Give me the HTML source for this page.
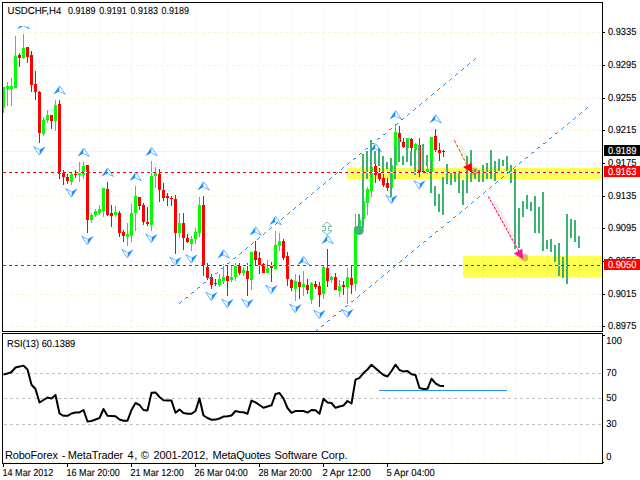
<!DOCTYPE html>
<html><head><meta charset="utf-8"><title>USDCHF H4</title>
<style>
html,body{margin:0;padding:0;background:#fff;}
body{width:640px;height:480px;overflow:hidden;}
svg{display:block;}
text{font-family:"Liberation Sans",sans-serif;}
</style></head><body>
<svg width="640" height="480" viewBox="0 0 640 480">
<defs>
<g id="fu"><path d="M0 0 L-6.1 9.1 L-0.3 5.9 Z" fill="#1e90ff"/><path d="M0.2 0.3 L5.8 8.8 L0 5.9" fill="none" stroke="#1e90ff" stroke-width="0.85" stroke-opacity="0.8"/></g>
<g id="fd"><path d="M0 0 L6.1 -9.1 L0.3 -5.9 Z" fill="#1e90ff"/><path d="M-0.2 -0.3 L-5.8 -8.8 L0 -5.9" fill="none" stroke="#1e90ff" stroke-width="0.85" stroke-opacity="0.8"/></g>
<clipPath id="cm"><rect x="3" y="3" width="599" height="328"/></clipPath>
<clipPath id="c1"><rect x="3" y="26" width="599" height="305"/></clipPath>
</defs>
<rect x="0" y="0" width="640" height="480" fill="#ffffff"/>
<g shape-rendering="crispEdges">
<line x1="35.5" y1="2" x2="35.5" y2="331" stroke="#f5f5dc" stroke-dasharray="3 3"/>
<line x1="35.5" y1="332" x2="35.5" y2="463" stroke="#f5f5dc" stroke-dasharray="3 3"/>
<line x1="67.5" y1="2" x2="67.5" y2="331" stroke="#f5f5dc" stroke-dasharray="3 3"/>
<line x1="67.5" y1="332" x2="67.5" y2="463" stroke="#f5f5dc" stroke-dasharray="3 3"/>
<line x1="99.5" y1="2" x2="99.5" y2="331" stroke="#f5f5dc" stroke-dasharray="3 3"/>
<line x1="99.5" y1="332" x2="99.5" y2="463" stroke="#f5f5dc" stroke-dasharray="3 3"/>
<line x1="131.5" y1="2" x2="131.5" y2="331" stroke="#f5f5dc" stroke-dasharray="3 3"/>
<line x1="131.5" y1="332" x2="131.5" y2="463" stroke="#f5f5dc" stroke-dasharray="3 3"/>
<line x1="163.5" y1="2" x2="163.5" y2="331" stroke="#f5f5dc" stroke-dasharray="3 3"/>
<line x1="163.5" y1="332" x2="163.5" y2="463" stroke="#f5f5dc" stroke-dasharray="3 3"/>
<line x1="195.5" y1="2" x2="195.5" y2="331" stroke="#f5f5dc" stroke-dasharray="3 3"/>
<line x1="195.5" y1="332" x2="195.5" y2="463" stroke="#f5f5dc" stroke-dasharray="3 3"/>
<line x1="227.5" y1="2" x2="227.5" y2="331" stroke="#f5f5dc" stroke-dasharray="3 3"/>
<line x1="227.5" y1="332" x2="227.5" y2="463" stroke="#f5f5dc" stroke-dasharray="3 3"/>
<line x1="259.5" y1="2" x2="259.5" y2="331" stroke="#f5f5dc" stroke-dasharray="3 3"/>
<line x1="259.5" y1="332" x2="259.5" y2="463" stroke="#f5f5dc" stroke-dasharray="3 3"/>
<line x1="291.5" y1="2" x2="291.5" y2="331" stroke="#f5f5dc" stroke-dasharray="3 3"/>
<line x1="291.5" y1="332" x2="291.5" y2="463" stroke="#f5f5dc" stroke-dasharray="3 3"/>
<line x1="323.5" y1="2" x2="323.5" y2="331" stroke="#f5f5dc" stroke-dasharray="3 3"/>
<line x1="323.5" y1="332" x2="323.5" y2="463" stroke="#f5f5dc" stroke-dasharray="3 3"/>
<line x1="355.5" y1="2" x2="355.5" y2="331" stroke="#f5f5dc" stroke-dasharray="3 3"/>
<line x1="355.5" y1="332" x2="355.5" y2="463" stroke="#f5f5dc" stroke-dasharray="3 3"/>
<line x1="387.5" y1="2" x2="387.5" y2="331" stroke="#f5f5dc" stroke-dasharray="3 3"/>
<line x1="387.5" y1="332" x2="387.5" y2="463" stroke="#f5f5dc" stroke-dasharray="3 3"/>
<line x1="419.5" y1="2" x2="419.5" y2="331" stroke="#f5f5dc" stroke-dasharray="3 3"/>
<line x1="419.5" y1="332" x2="419.5" y2="463" stroke="#f5f5dc" stroke-dasharray="3 3"/>
<line x1="451.5" y1="2" x2="451.5" y2="331" stroke="#f5f5dc" stroke-dasharray="3 3"/>
<line x1="451.5" y1="332" x2="451.5" y2="463" stroke="#f5f5dc" stroke-dasharray="3 3"/>
<line x1="483.5" y1="2" x2="483.5" y2="331" stroke="#f5f5dc" stroke-dasharray="3 3"/>
<line x1="483.5" y1="332" x2="483.5" y2="463" stroke="#f5f5dc" stroke-dasharray="3 3"/>
<line x1="515.5" y1="2" x2="515.5" y2="331" stroke="#f5f5dc" stroke-dasharray="3 3"/>
<line x1="515.5" y1="332" x2="515.5" y2="463" stroke="#f5f5dc" stroke-dasharray="3 3"/>
<line x1="547.5" y1="2" x2="547.5" y2="331" stroke="#f5f5dc" stroke-dasharray="3 3"/>
<line x1="547.5" y1="332" x2="547.5" y2="463" stroke="#f5f5dc" stroke-dasharray="3 3"/>
<line x1="579.5" y1="2" x2="579.5" y2="331" stroke="#f5f5dc" stroke-dasharray="3 3"/>
<line x1="579.5" y1="332" x2="579.5" y2="463" stroke="#f5f5dc" stroke-dasharray="3 3"/>
<rect x="347" y="168" width="255" height="11" fill="#ffff3c" fill-opacity="0.9"/>
<rect x="463" y="256" width="139" height="21" fill="#ffff3c" fill-opacity="0.9"/>
<clipPath id="cy"><rect x="347" y="168" width="255" height="11"/><rect x="463" y="256" width="139" height="21"/></clipPath>
<g clip-path="url(#cy)"><line x1="355.5" y1="2" x2="355.5" y2="331" stroke="#e9e47c" stroke-dasharray="3 3"/><line x1="387.5" y1="2" x2="387.5" y2="331" stroke="#e9e47c" stroke-dasharray="3 3"/><line x1="419.5" y1="2" x2="419.5" y2="331" stroke="#e9e47c" stroke-dasharray="3 3"/><line x1="451.5" y1="2" x2="451.5" y2="331" stroke="#e9e47c" stroke-dasharray="3 3"/><line x1="483.5" y1="2" x2="483.5" y2="331" stroke="#e9e47c" stroke-dasharray="3 3"/><line x1="515.5" y1="2" x2="515.5" y2="331" stroke="#e9e47c" stroke-dasharray="3 3"/><line x1="547.5" y1="2" x2="547.5" y2="331" stroke="#e9e47c" stroke-dasharray="3 3"/><line x1="579.5" y1="2" x2="579.5" y2="331" stroke="#e9e47c" stroke-dasharray="3 3"/></g>
<line x1="4" y1="32.5" x2="602" y2="32.5" stroke="#f5f5dc" stroke-dasharray="3 3"/>
<line x1="4" y1="65.5" x2="602" y2="65.5" stroke="#f5f5dc" stroke-dasharray="3 3"/>
<line x1="4" y1="98.5" x2="602" y2="98.5" stroke="#f5f5dc" stroke-dasharray="3 3"/>
<line x1="4" y1="130.5" x2="602" y2="130.5" stroke="#f5f5dc" stroke-dasharray="3 3"/>
<line x1="4" y1="163.5" x2="602" y2="163.5" stroke="#f5f5dc" stroke-dasharray="3 3"/>
<line x1="4" y1="196.5" x2="602" y2="196.5" stroke="#f5f5dc" stroke-dasharray="3 3"/>
<line x1="4" y1="228.5" x2="602" y2="228.5" stroke="#f5f5dc" stroke-dasharray="3 3"/>
<line x1="4" y1="261.5" x2="602" y2="261.5" stroke="#f5f5dc" stroke-dasharray="3 3"/>
<line x1="4" y1="294.5" x2="602" y2="294.5" stroke="#f5f5dc" stroke-dasharray="3 3"/>
<line x1="4" y1="326.5" x2="602" y2="326.5" stroke="#f5f5dc" stroke-dasharray="3 3"/>
<line x1="3" y1="151.5" x2="602" y2="151.5" stroke="#f5f5dc"/>
</g>
<g shape-rendering="crispEdges" clip-path="url(#cm)">
<rect x="3" y="87" width="1" height="26" fill="#00ff00"/><rect x="2" y="87" width="3" height="21" fill="#00ff00"/>
<rect x="7" y="82" width="1" height="24" fill="#00ff00"/><rect x="6" y="86" width="3" height="3" fill="#00ff00"/>
<rect x="11" y="78" width="1" height="28" fill="#00ff00"/><rect x="10" y="86" width="3" height="3" fill="#00ff00"/>
<rect x="15" y="36" width="1" height="52" fill="#00ff00"/><rect x="14" y="56" width="3" height="32" fill="#00ff00"/>
<rect x="19" y="53" width="1" height="14" fill="#ff0000"/><rect x="18" y="55" width="3" height="3" fill="#ff0000"/>
<rect x="23" y="34" width="1" height="25" fill="#00ff00"/><rect x="22" y="48" width="3" height="10" fill="#00ff00"/>
<rect x="27" y="47" width="1" height="16" fill="#ff0000"/><rect x="26" y="47" width="3" height="10" fill="#ff0000"/>
<rect x="31" y="51" width="1" height="41" fill="#ff0000"/><rect x="30" y="55" width="3" height="30" fill="#ff0000"/>
<rect x="35" y="71" width="1" height="29" fill="#ff0000"/><rect x="34" y="84" width="3" height="8" fill="#ff0000"/>
<rect x="39" y="91" width="1" height="52" fill="#ff0000"/><rect x="38" y="92" width="3" height="41" fill="#ff0000"/>
<rect x="43" y="117" width="1" height="19" fill="#00ff00"/><rect x="42" y="120" width="3" height="14" fill="#00ff00"/>
<rect x="47" y="110" width="1" height="13" fill="#00ff00"/><rect x="46" y="115" width="3" height="5" fill="#00ff00"/>
<rect x="51" y="115" width="1" height="14" fill="#ff0000"/><rect x="50" y="115" width="3" height="6" fill="#ff0000"/>
<rect x="55" y="100" width="1" height="31" fill="#00ff00"/><rect x="54" y="105" width="3" height="16" fill="#00ff00"/>
<rect x="59" y="100" width="1" height="79" fill="#ff0000"/><rect x="58" y="104" width="3" height="70" fill="#ff0000"/>
<rect x="63" y="170" width="1" height="15" fill="#ff0000"/><rect x="62" y="173" width="3" height="4" fill="#ff0000"/>
<rect x="67" y="174" width="1" height="10" fill="#ff0000"/><rect x="66" y="177" width="3" height="4" fill="#ff0000"/>
<rect x="71" y="173" width="1" height="12" fill="#00ff00"/><rect x="70" y="174" width="3" height="8" fill="#00ff00"/>
<rect x="75" y="170" width="1" height="8" fill="#ff0000"/><rect x="74" y="174" width="3" height="1" fill="#ff0000"/>
<rect x="79" y="162" width="1" height="20" fill="#00ff00"/><rect x="78" y="173" width="3" height="2" fill="#00ff00"/>
<rect x="83" y="162" width="1" height="17" fill="#00ff00"/><rect x="82" y="166" width="3" height="9" fill="#00ff00"/>
<rect x="87" y="165" width="1" height="68" fill="#ff0000"/><rect x="86" y="165" width="3" height="55" fill="#ff0000"/>
<rect x="91" y="213" width="1" height="10" fill="#00ff00"/><rect x="90" y="215" width="3" height="5" fill="#00ff00"/>
<rect x="95" y="209" width="1" height="8" fill="#00ff00"/><rect x="94" y="211" width="3" height="4" fill="#00ff00"/>
<rect x="99" y="205" width="1" height="10" fill="#00ff00"/><rect x="98" y="209" width="3" height="4" fill="#00ff00"/>
<rect x="103" y="188" width="1" height="29" fill="#00ff00"/><rect x="102" y="188" width="3" height="23" fill="#00ff00"/>
<rect x="107" y="182" width="1" height="34" fill="#ff0000"/><rect x="106" y="189" width="3" height="26" fill="#ff0000"/>
<rect x="111" y="205" width="1" height="22" fill="#ff0000"/><rect x="110" y="213" width="3" height="3" fill="#ff0000"/>
<rect x="115" y="206" width="1" height="11" fill="#00ff00"/><rect x="114" y="212" width="3" height="3" fill="#00ff00"/>
<rect x="119" y="211" width="1" height="26" fill="#ff0000"/><rect x="118" y="213" width="3" height="20" fill="#ff0000"/>
<rect x="123" y="230" width="1" height="12" fill="#ff0000"/><rect x="122" y="232" width="3" height="4" fill="#ff0000"/>
<rect x="127" y="223" width="1" height="23" fill="#00ff00"/><rect x="126" y="234" width="3" height="3" fill="#00ff00"/>
<rect x="131" y="204" width="1" height="38" fill="#00ff00"/><rect x="130" y="213" width="3" height="23" fill="#00ff00"/>
<rect x="135" y="186" width="1" height="45" fill="#00ff00"/><rect x="134" y="196" width="3" height="17" fill="#00ff00"/>
<rect x="139" y="197" width="1" height="13" fill="#ff0000"/><rect x="138" y="197" width="3" height="9" fill="#ff0000"/>
<rect x="143" y="203" width="1" height="22" fill="#ff0000"/><rect x="142" y="205" width="3" height="17" fill="#ff0000"/>
<rect x="147" y="207" width="1" height="19" fill="#ff0000"/><rect x="146" y="222" width="3" height="2" fill="#ff0000"/>
<rect x="151" y="161" width="1" height="70" fill="#00ff00"/><rect x="150" y="176" width="3" height="49" fill="#00ff00"/>
<rect x="155" y="167" width="1" height="21" fill="#00ff00"/><rect x="154" y="173" width="3" height="3" fill="#00ff00"/>
<rect x="159" y="169" width="1" height="33" fill="#ff0000"/><rect x="158" y="174" width="3" height="16" fill="#ff0000"/>
<rect x="163" y="183" width="1" height="18" fill="#ff0000"/><rect x="162" y="190" width="3" height="8" fill="#ff0000"/>
<rect x="167" y="193" width="1" height="13" fill="#ff0000"/><rect x="166" y="196" width="3" height="2" fill="#ff0000"/>
<rect x="171" y="196" width="1" height="10" fill="#ff0000"/><rect x="170" y="198" width="3" height="1" fill="#ff0000"/>
<rect x="175" y="195" width="1" height="59" fill="#ff0000"/><rect x="174" y="199" width="3" height="34" fill="#ff0000"/>
<rect x="179" y="213" width="1" height="25" fill="#00ff00"/><rect x="178" y="223" width="3" height="10" fill="#00ff00"/>
<rect x="183" y="213" width="1" height="37" fill="#ff0000"/><rect x="182" y="223" width="3" height="15" fill="#ff0000"/>
<rect x="187" y="234" width="1" height="9" fill="#ff0000"/><rect x="186" y="238" width="3" height="4" fill="#ff0000"/>
<rect x="191" y="236" width="1" height="15" fill="#00ff00"/><rect x="190" y="239" width="3" height="5" fill="#00ff00"/>
<rect x="195" y="228" width="1" height="16" fill="#00ff00"/><rect x="194" y="232" width="3" height="7" fill="#00ff00"/>
<rect x="199" y="197" width="1" height="40" fill="#00ff00"/><rect x="198" y="205" width="3" height="28" fill="#00ff00"/>
<rect x="203" y="196" width="1" height="80" fill="#ff0000"/><rect x="202" y="205" width="3" height="61" fill="#ff0000"/>
<rect x="207" y="263" width="1" height="17" fill="#ff0000"/><rect x="206" y="267" width="3" height="11" fill="#ff0000"/>
<rect x="211" y="274" width="1" height="15" fill="#ff0000"/><rect x="210" y="277" width="3" height="8" fill="#ff0000"/>
<rect x="215" y="279" width="1" height="7" fill="#ff0000"/><rect x="214" y="283" width="3" height="1" fill="#ff0000"/>
<rect x="219" y="274" width="1" height="13" fill="#00ff00"/><rect x="218" y="279" width="3" height="6" fill="#00ff00"/>
<rect x="223" y="264" width="1" height="20" fill="#00ff00"/><rect x="222" y="277" width="3" height="4" fill="#00ff00"/>
<rect x="227" y="266" width="1" height="30" fill="#ff0000"/><rect x="226" y="276" width="3" height="5" fill="#ff0000"/>
<rect x="231" y="266" width="1" height="16" fill="#00ff00"/><rect x="230" y="277" width="3" height="3" fill="#00ff00"/>
<rect x="235" y="263" width="1" height="18" fill="#00ff00"/><rect x="234" y="266" width="3" height="11" fill="#00ff00"/>
<rect x="239" y="263" width="1" height="12" fill="#ff0000"/><rect x="238" y="266" width="3" height="7" fill="#ff0000"/>
<rect x="243" y="267" width="1" height="9" fill="#00ff00"/><rect x="242" y="270" width="3" height="3" fill="#00ff00"/>
<rect x="247" y="263" width="1" height="33" fill="#ff0000"/><rect x="246" y="271" width="3" height="8" fill="#ff0000"/>
<rect x="251" y="252" width="1" height="38" fill="#00ff00"/><rect x="250" y="252" width="3" height="28" fill="#00ff00"/>
<rect x="255" y="241" width="1" height="24" fill="#ff0000"/><rect x="254" y="251" width="3" height="9" fill="#ff0000"/>
<rect x="259" y="252" width="1" height="22" fill="#ff0000"/><rect x="258" y="258" width="3" height="7" fill="#ff0000"/>
<rect x="263" y="263" width="1" height="10" fill="#ff0000"/><rect x="262" y="264" width="3" height="9" fill="#ff0000"/>
<rect x="267" y="260" width="1" height="13" fill="#00ff00"/><rect x="266" y="268" width="3" height="5" fill="#00ff00"/>
<rect x="271" y="262" width="1" height="20" fill="#ff0000"/><rect x="270" y="266" width="3" height="2" fill="#ff0000"/>
<rect x="275" y="231" width="1" height="38" fill="#00ff00"/><rect x="274" y="245" width="3" height="24" fill="#00ff00"/>
<rect x="279" y="233" width="1" height="18" fill="#00ff00"/><rect x="278" y="241" width="3" height="5" fill="#00ff00"/>
<rect x="283" y="239" width="1" height="21" fill="#ff0000"/><rect x="282" y="241" width="3" height="17" fill="#ff0000"/>
<rect x="287" y="252" width="1" height="34" fill="#ff0000"/><rect x="286" y="256" width="3" height="23" fill="#ff0000"/>
<rect x="291" y="279" width="1" height="12" fill="#ff0000"/><rect x="290" y="280" width="3" height="8" fill="#ff0000"/>
<rect x="295" y="274" width="1" height="27" fill="#00ff00"/><rect x="294" y="281" width="3" height="8" fill="#00ff00"/>
<rect x="299" y="275" width="1" height="24" fill="#ff0000"/><rect x="298" y="282" width="3" height="5" fill="#ff0000"/>
<rect x="303" y="271" width="1" height="25" fill="#00ff00"/><rect x="302" y="284" width="3" height="3" fill="#00ff00"/>
<rect x="307" y="279" width="1" height="15" fill="#ff0000"/><rect x="306" y="285" width="3" height="5" fill="#ff0000"/>
<rect x="311" y="282" width="1" height="22" fill="#00ff00"/><rect x="310" y="283" width="3" height="17" fill="#00ff00"/>
<rect x="315" y="281" width="1" height="8" fill="#ff0000"/><rect x="314" y="284" width="3" height="3" fill="#ff0000"/>
<rect x="319" y="282" width="1" height="25" fill="#ff0000"/><rect x="318" y="286" width="3" height="9" fill="#ff0000"/>
<rect x="323" y="266" width="1" height="33" fill="#00ff00"/><rect x="322" y="267" width="3" height="27" fill="#00ff00"/>
<rect x="327" y="249" width="1" height="38" fill="#ff0000"/><rect x="326" y="268" width="3" height="13" fill="#ff0000"/>
<rect x="331" y="276" width="1" height="7" fill="#00ff00"/><rect x="330" y="277" width="3" height="3" fill="#00ff00"/>
<rect x="335" y="273" width="1" height="17" fill="#ff0000"/><rect x="334" y="277" width="3" height="13" fill="#ff0000"/>
<rect x="339" y="280" width="1" height="17" fill="#00ff00"/><rect x="338" y="286" width="3" height="5" fill="#00ff00"/>
<rect x="343" y="281" width="1" height="14" fill="#ff0000"/><rect x="342" y="285" width="3" height="2" fill="#ff0000"/>
<rect x="347" y="268" width="1" height="36" fill="#00ff00"/><rect x="346" y="277" width="3" height="10" fill="#00ff00"/>
<rect x="351" y="266" width="1" height="28" fill="#ff0000"/><rect x="350" y="278" width="3" height="7" fill="#ff0000"/>
<rect x="355" y="214" width="1" height="77" fill="#00ff00"/><rect x="354" y="227" width="3" height="57" fill="#00ff00"/>
<rect x="359" y="220" width="1" height="9" fill="#00ff00"/><rect x="358" y="220" width="3" height="9" fill="#00ff00"/>
<rect x="363" y="201" width="1" height="18" fill="#00ff00"/><rect x="362" y="201" width="3" height="18" fill="#00ff00"/>
<rect x="367" y="187" width="1" height="28" fill="#00ff00"/><rect x="366" y="189" width="3" height="14" fill="#00ff00"/>
<rect x="371" y="167" width="1" height="30" fill="#00ff00"/><rect x="370" y="167" width="3" height="24" fill="#00ff00"/>
<rect x="375" y="164" width="1" height="19" fill="#ff0000"/><rect x="374" y="166" width="3" height="9" fill="#ff0000"/>
<rect x="379" y="168" width="1" height="13" fill="#ff0000"/><rect x="378" y="173" width="3" height="6" fill="#ff0000"/>
<rect x="383" y="174" width="1" height="13" fill="#ff0000"/><rect x="382" y="178" width="3" height="7" fill="#ff0000"/>
<rect x="387" y="178" width="1" height="13" fill="#ff0000"/><rect x="386" y="183" width="3" height="5" fill="#ff0000"/>
<rect x="391" y="165" width="1" height="23" fill="#00ff00"/><rect x="390" y="165" width="3" height="23" fill="#00ff00"/>
<rect x="395" y="125" width="1" height="40" fill="#00ff00"/><rect x="394" y="132" width="3" height="33" fill="#00ff00"/>
<rect x="399" y="126" width="1" height="17" fill="#ff0000"/><rect x="398" y="133" width="3" height="9" fill="#ff0000"/>
<rect x="403" y="138" width="1" height="10" fill="#ff0000"/><rect x="402" y="142" width="3" height="5" fill="#ff0000"/>
<rect x="407" y="138" width="1" height="10" fill="#00ff00"/><rect x="406" y="138" width="3" height="10" fill="#00ff00"/>
<rect x="411" y="138" width="1" height="13" fill="#ff0000"/><rect x="410" y="139" width="3" height="9" fill="#ff0000"/>
<rect x="415" y="143" width="1" height="7" fill="#00ff00"/><rect x="414" y="144" width="3" height="6" fill="#00ff00"/>
<rect x="419" y="138" width="1" height="39" fill="#ff0000"/><rect x="418" y="145" width="3" height="27" fill="#ff0000"/>
<rect x="423" y="171" width="1" height="2" fill="#ff0000"/><rect x="422" y="171" width="3" height="2" fill="#ff0000"/>
<rect x="427" y="166" width="1" height="8" fill="#00ff00"/><rect x="426" y="169" width="3" height="3" fill="#00ff00"/>
<rect x="431" y="137" width="1" height="35" fill="#00ff00"/><rect x="430" y="137" width="3" height="35" fill="#00ff00"/>
<rect x="435" y="129" width="1" height="23" fill="#ff0000"/><rect x="434" y="136" width="3" height="14" fill="#ff0000"/>
<rect x="439" y="143" width="1" height="18" fill="#ff0000"/><rect x="438" y="150" width="3" height="3" fill="#ff0000"/>
<rect x="443" y="150" width="1" height="7" fill="#ff0000"/><rect x="442" y="151" width="3" height="1" fill="#ff0000"/>
</g>
<g stroke="#f0efe2" fill="none" stroke-linecap="round">
<line x1="460.5" y1="146" x2="470" y2="164" stroke-width="3"/>
<line x1="494.5" y1="202.5" x2="515" y2="240" stroke-width="3.2"/>
</g>
<g shape-rendering="crispEdges" fill="#3cb371">
<rect x="358" y="214" width="2" height="16"/><rect x="362" y="154" width="2" height="74"/><rect x="366" y="151" width="2" height="28"/><rect x="370" y="140" width="2" height="37"/><rect x="374" y="151" width="2" height="13"/><rect x="378" y="148" width="2" height="18"/><rect x="382" y="156" width="2" height="16"/><rect x="386" y="162" width="2" height="7"/><rect x="390" y="158" width="2" height="39"/><rect x="394" y="147" width="2" height="32"/><rect x="398" y="138" width="2" height="24"/><rect x="402" y="156" width="2" height="9"/><rect x="406" y="140" width="2" height="22"/><rect x="410" y="151" width="2" height="15"/><rect x="414" y="150" width="2" height="25"/><rect x="418" y="145" width="2" height="25"/><rect x="422" y="144" width="2" height="27"/><rect x="426" y="155" width="2" height="11"/><rect x="430" y="159" width="2" height="34"/><rect x="434" y="186" width="2" height="20"/><rect x="438" y="194" width="2" height="18"/><rect x="442" y="177" width="2" height="38"/><rect x="446" y="164" width="2" height="20"/><rect x="450" y="173" width="2" height="12"/><rect x="454" y="173" width="2" height="9"/><rect x="458" y="171" width="2" height="22"/><rect x="462" y="180" width="2" height="25"/><rect x="466" y="156" width="2" height="37"/><rect x="470" y="150" width="2" height="32"/><rect x="474" y="169" width="2" height="10"/><rect x="478" y="170" width="2" height="12"/><rect x="482" y="165" width="2" height="17"/><rect x="486" y="163" width="2" height="16"/><rect x="490" y="150" width="2" height="29"/><rect x="494" y="161" width="2" height="20"/><rect x="498" y="159" width="2" height="12"/><rect x="502" y="160" width="2" height="6"/><rect x="506" y="156" width="2" height="15"/><rect x="510" y="165" width="2" height="18"/><rect x="514" y="169" width="2" height="80"/><rect x="518" y="208" width="2" height="40"/><rect x="522" y="201" width="2" height="16"/><rect x="526" y="195" width="2" height="14"/><rect x="530" y="202" width="2" height="9"/><rect x="534" y="196" width="2" height="37"/><rect x="538" y="207" width="2" height="26"/><rect x="542" y="192" width="2" height="59"/><rect x="546" y="240" width="2" height="9"/><rect x="550" y="239" width="2" height="13"/><rect x="554" y="245" width="2" height="17"/><rect x="558" y="243" width="2" height="33"/><rect x="562" y="257" width="2" height="21"/><rect x="566" y="214" width="2" height="70"/><rect x="570" y="219" width="2" height="19"/><rect x="574" y="220" width="2" height="22"/><rect x="578" y="236" width="2" height="12"/>
</g>
<circle cx="359" cy="230.3" r="4.8" fill="#3cb371"/>
<g shape-rendering="crispEdges">
<rect x="3" y="172" width="599" height="1" fill="#fff"/><line x1="3" y1="172.5" x2="602" y2="172.5" stroke="#ff0000" stroke-dasharray="3 3"/>
<rect x="3" y="265" width="599" height="1" fill="#fff"/><line x1="3" y1="265.5" x2="602" y2="265.5" stroke="#ff0000" stroke-dasharray="3 3"/>
</g>
<path shape-rendering="crispEdges" fill="#1e90ff" d="M179 303h1v1h-1zM180 302h1v1h-1zM181 301h1v1h-1zM185 298h1v1h-1zM186 297h1v1h-1zM187 297h1v1h-1zM191 293h1v1h-1zM192 292h1v1h-1zM193 292h1v1h-1zM197 288h1v1h-1zM198 287h1v1h-1zM199 287h1v1h-1zM203 283h1v1h-1zM204 282h1v1h-1zM205 282h1v1h-1zM209 278h1v1h-1zM210 278h1v1h-1zM211 277h1v1h-1zM215 273h1v1h-1zM216 273h1v1h-1zM217 272h1v1h-1zM221 268h1v1h-1zM222 268h1v1h-1zM223 267h1v1h-1zM227 263h1v1h-1zM228 263h1v1h-1zM229 262h1v1h-1zM233 258h1v1h-1zM234 258h1v1h-1zM235 257h1v1h-1zM239 254h1v1h-1zM240 253h1v1h-1zM241 252h1v1h-1zM245 249h1v1h-1zM246 248h1v1h-1zM247 247h1v1h-1zM251 244h1v1h-1zM252 243h1v1h-1zM253 242h1v1h-1zM257 239h1v1h-1zM258 238h1v1h-1zM259 237h1v1h-1zM263 234h1v1h-1zM264 233h1v1h-1zM265 232h1v1h-1zM269 229h1v1h-1zM270 228h1v1h-1zM271 227h1v1h-1zM275 224h1v1h-1zM276 223h1v1h-1zM277 222h1v1h-1zM281 219h1v1h-1zM282 218h1v1h-1zM283 217h1v1h-1zM287 214h1v1h-1zM288 213h1v1h-1zM289 212h1v1h-1zM293 209h1v1h-1zM294 208h1v1h-1zM295 207h1v1h-1zM299 204h1v1h-1zM300 203h1v1h-1zM301 202h1v1h-1zM305 199h1v1h-1zM306 198h1v1h-1zM307 197h1v1h-1zM311 194h1v1h-1zM312 193h1v1h-1zM313 192h1v1h-1zM317 189h1v1h-1zM318 188h1v1h-1zM319 187h1v1h-1zM323 184h1v1h-1zM324 183h1v1h-1zM325 182h1v1h-1zM329 179h1v1h-1zM330 178h1v1h-1zM331 177h1v1h-1zM335 174h1v1h-1zM336 173h1v1h-1zM337 172h1v1h-1zM341 169h1v1h-1zM342 168h1v1h-1zM343 167h1v1h-1zM347 164h1v1h-1zM348 163h1v1h-1zM349 162h1v1h-1zM353 159h1v1h-1zM354 158h1v1h-1zM355 158h1v1h-1zM359 154h1v1h-1zM360 153h1v1h-1zM361 153h1v1h-1zM365 149h1v1h-1zM366 148h1v1h-1zM367 148h1v1h-1zM371 144h1v1h-1zM372 143h1v1h-1zM373 143h1v1h-1zM377 139h1v1h-1zM378 138h1v1h-1zM379 138h1v1h-1zM383 134h1v1h-1zM384 134h1v1h-1zM385 133h1v1h-1zM389 129h1v1h-1zM390 129h1v1h-1zM391 128h1v1h-1zM395 124h1v1h-1zM396 124h1v1h-1zM397 123h1v1h-1zM401 119h1v1h-1zM402 119h1v1h-1zM403 118h1v1h-1zM407 115h1v1h-1zM408 114h1v1h-1zM409 113h1v1h-1zM413 110h1v1h-1zM414 109h1v1h-1zM415 108h1v1h-1zM419 105h1v1h-1zM420 104h1v1h-1zM421 103h1v1h-1zM425 100h1v1h-1zM426 99h1v1h-1zM427 98h1v1h-1zM431 95h1v1h-1zM432 94h1v1h-1zM433 93h1v1h-1zM437 90h1v1h-1zM438 89h1v1h-1zM439 88h1v1h-1zM443 85h1v1h-1zM444 84h1v1h-1zM445 83h1v1h-1zM449 80h1v1h-1zM450 79h1v1h-1zM451 78h1v1h-1zM455 75h1v1h-1zM456 74h1v1h-1zM457 73h1v1h-1zM461 70h1v1h-1zM462 69h1v1h-1zM463 68h1v1h-1zM467 65h1v1h-1zM468 64h1v1h-1zM469 63h1v1h-1zM473 60h1v1h-1zM474 59h1v1h-1zM475 58h1v1h-1z"/>
<path shape-rendering="crispEdges" fill="#1e90ff" d="M316 330h1v1h-1zM317 329h1v1h-1zM321 326h1v1h-1zM322 325h1v1h-1zM323 325h1v1h-1zM327 321h1v1h-1zM328 320h1v1h-1zM329 320h1v1h-1zM333 316h1v1h-1zM334 315h1v1h-1zM335 315h1v1h-1zM339 311h1v1h-1zM340 311h1v1h-1zM341 310h1v1h-1zM345 306h1v1h-1zM346 306h1v1h-1zM347 305h1v1h-1zM351 301h1v1h-1zM352 301h1v1h-1zM353 300h1v1h-1zM357 297h1v1h-1zM358 296h1v1h-1zM359 295h1v1h-1zM363 292h1v1h-1zM364 291h1v1h-1zM365 290h1v1h-1zM369 287h1v1h-1zM370 286h1v1h-1zM371 285h1v1h-1zM375 282h1v1h-1zM376 281h1v1h-1zM377 280h1v1h-1zM381 277h1v1h-1zM382 276h1v1h-1zM383 275h1v1h-1zM387 272h1v1h-1zM388 271h1v1h-1zM389 270h1v1h-1zM393 267h1v1h-1zM394 266h1v1h-1zM395 265h1v1h-1zM399 262h1v1h-1zM400 261h1v1h-1zM401 260h1v1h-1zM405 257h1v1h-1zM406 256h1v1h-1zM407 255h1v1h-1zM411 252h1v1h-1zM412 251h1v1h-1zM413 250h1v1h-1zM417 247h1v1h-1zM418 246h1v1h-1zM419 245h1v1h-1zM423 242h1v1h-1zM424 241h1v1h-1zM425 241h1v1h-1zM429 237h1v1h-1zM430 236h1v1h-1zM431 236h1v1h-1zM435 232h1v1h-1zM436 231h1v1h-1zM437 231h1v1h-1zM441 227h1v1h-1zM442 227h1v1h-1zM443 226h1v1h-1zM447 222h1v1h-1zM448 222h1v1h-1zM449 221h1v1h-1zM453 217h1v1h-1zM454 217h1v1h-1zM455 216h1v1h-1zM459 213h1v1h-1zM460 212h1v1h-1zM461 211h1v1h-1zM465 208h1v1h-1zM466 207h1v1h-1zM467 206h1v1h-1zM471 203h1v1h-1zM472 202h1v1h-1zM473 201h1v1h-1zM477 198h1v1h-1zM478 197h1v1h-1zM479 196h1v1h-1zM483 193h1v1h-1zM484 192h1v1h-1zM485 191h1v1h-1zM489 188h1v1h-1zM490 187h1v1h-1zM491 186h1v1h-1zM495 183h1v1h-1zM496 182h1v1h-1zM497 181h1v1h-1zM501 178h1v1h-1zM502 177h1v1h-1zM503 176h1v1h-1zM507 173h1v1h-1zM508 172h1v1h-1zM509 171h1v1h-1zM513 168h1v1h-1zM514 167h1v1h-1zM515 166h1v1h-1zM519 163h1v1h-1zM520 162h1v1h-1zM521 161h1v1h-1zM525 158h1v1h-1zM526 157h1v1h-1zM527 157h1v1h-1zM531 153h1v1h-1zM532 152h1v1h-1zM533 152h1v1h-1zM537 148h1v1h-1zM538 147h1v1h-1zM539 147h1v1h-1zM543 143h1v1h-1zM544 143h1v1h-1zM545 142h1v1h-1zM549 138h1v1h-1zM550 138h1v1h-1zM551 137h1v1h-1zM555 133h1v1h-1zM556 133h1v1h-1zM557 132h1v1h-1zM561 129h1v1h-1zM562 128h1v1h-1zM563 127h1v1h-1zM567 124h1v1h-1zM568 123h1v1h-1zM569 122h1v1h-1zM573 119h1v1h-1zM574 118h1v1h-1zM575 117h1v1h-1zM579 114h1v1h-1zM580 113h1v1h-1zM581 112h1v1h-1zM585 109h1v1h-1zM586 108h1v1h-1zM587 107h1v1h-1z"/>
<g clip-path="url(#c1)">
<use href="#fu" x="23.5" y="20.1"/><use href="#fu" x="59.5" y="85.5"/><use href="#fu" x="83.5" y="147.7"/><use href="#fu" x="107.5" y="167.6"/><use href="#fu" x="135.5" y="172"/><use href="#fu" x="151.5" y="147"/><use href="#fu" x="203.5" y="181.3"/><use href="#fu" x="223.5" y="249.3"/><use href="#fu" x="255.5" y="226.5"/><use href="#fu" x="275.5" y="216"/><use href="#fu" x="303.5" y="256"/><use href="#fu" x="327.5" y="235"/><use href="#fu" x="375.5" y="143"/><use href="#fu" x="395.5" y="110.3"/><use href="#fu" x="435.5" y="114.2"/><use href="#fd" x="39.5" y="155.5"/><use href="#fd" x="71.5" y="197.5"/><use href="#fd" x="87.5" y="245"/><use href="#fd" x="127.5" y="258.3"/><use href="#fd" x="151.5" y="243"/><use href="#fd" x="175.5" y="266"/><use href="#fd" x="191.5" y="263.5"/><use href="#fd" x="211.5" y="301"/><use href="#fd" x="227.5" y="308"/><use href="#fd" x="247.5" y="308"/><use href="#fd" x="271.5" y="294"/><use href="#fd" x="295.5" y="313"/><use href="#fd" x="319.5" y="319"/><use href="#fd" x="347.5" y="318"/><use href="#fd" x="391.5" y="204"/><use href="#fd" x="419.5" y="189.4"/>
</g>
<path d="M327 222 L332 226.5 L328.6 226.5 L328.6 230.7 L332 230.7 L327 235 L322 230.7 L325.4 230.7 L325.4 226.5 L322 226.5 Z" fill="#fff" stroke="#44a98c" stroke-width="0.75"/>
<g fill="#a87830" opacity="0.45">
<ellipse cx="474.5" cy="171.5" rx="3.2" ry="4.2"/>
<ellipse cx="525" cy="257.5" rx="3.2" ry="4"/>
</g>
<line x1="454.4" y1="140.4" x2="467" y2="165" stroke="#ffc890" stroke-width="1"/>
<line x1="454.4" y1="140.4" x2="467" y2="165" stroke="#ff2020" stroke-width="1" stroke-dasharray="2.5 2.5"/>
<path d="M462.9 167 L471.6 163.1 L472.3 172.7 Z" fill="#ff0000"/>
<line x1="488.4" y1="196.6" x2="519" y2="251.5" stroke="#ffb0d4" stroke-width="1"/>
<line x1="488.4" y1="196.6" x2="519" y2="251.5" stroke="#ff1493" stroke-width="1.15" stroke-dasharray="2.2 1.8"/>
<path d="M513.9 253.6 L522.3 248.7 L523.2 259.6 Z" fill="#ff1493"/>
<g shape-rendering="crispEdges">
<line x1="4" y1="373.5" x2="602" y2="373.5" stroke="#c0c0c0" stroke-dasharray="3 3"/>
<line x1="4" y1="398.5" x2="602" y2="398.5" stroke="#c0c0c0" stroke-dasharray="3 3"/>
<line x1="4" y1="424.5" x2="602" y2="424.5" stroke="#c0c0c0" stroke-dasharray="3 3"/>
<line x1="4" y1="462.5" x2="602" y2="462.5" stroke="#f5f5dc" stroke-dasharray="3 3"/>
<line x1="379" y1="390.5" x2="507" y2="390.5" stroke="#1e90ff"/>
</g>
<polyline points="3.5,374.4 7.5,373.6 11.5,372 15.5,367.5 19.5,366.6 23.5,365.6 27.5,369.5 31.5,384.7 35.5,389 39.5,402.5 43.5,400 47.5,397.6 51.5,398.4 55.5,395 59.5,413.5 63.5,415.8 67.5,415.8 71.5,413.5 75.5,412.6 79.5,412.4 83.5,410 87.5,421.5 91.5,421 95.5,419.5 99.5,418 103.5,409 107.5,415.8 111.5,416 115.5,416.2 119.5,419.5 123.5,420.7 127.5,420.7 131.5,410 135.5,403 139.5,405 143.5,410 147.5,410.4 151.5,392.75 155.5,392.4 159.5,397 163.5,400.25 167.5,400.4 171.5,400.6 175.5,412.8 179.5,409.6 183.5,413 187.5,413.75 191.5,413.75 195.5,411 199.5,398.4 203.5,415.5 207.5,418 211.5,419.75 215.5,419.6 219.5,418.5 223.5,416.6 227.5,416.2 231.5,415.5 235.5,411 239.5,411.9 243.5,412.2 247.5,413.75 251.5,400.6 255.5,402.3 259.5,405 263.5,407.75 267.5,406.5 271.5,405.3 275.5,394 279.5,393 283.5,398.6 287.5,408 291.5,412.8 295.5,411 299.5,411 303.5,411 307.5,412.6 311.5,410 315.5,410.2 319.5,413.75 323.5,398.75 327.5,402.5 331.5,403 335.5,407.8 339.5,406.5 343.5,405.5 347.5,401 351.5,403.5 355.5,379.7 359.5,377.8 363.5,373 367.5,369.5 371.5,364.7 375.5,368.2 379.5,371.7 383.5,375 387.5,376.5 391.5,371 395.5,364.7 399.5,370 403.5,371.6 407.5,370.9 411.5,374.2 415.5,375 419.5,388 423.5,389 427.5,388.8 431.5,378.75 435.5,383.4 439.5,385.7 443.5,386 444,386" fill="none" stroke="#000" stroke-width="2" stroke-linejoin="round"/>
<g shape-rendering="crispEdges" fill="#000">
<rect x="2" y="2" width="601" height="1"/><rect x="2" y="2" width="1" height="462"/><rect x="602" y="2" width="1" height="462"/><rect x="2" y="331" width="601" height="1"/><rect x="2" y="332" width="601" height="1" fill="#fff"/><rect x="2" y="333" width="601" height="1"/><rect x="2" y="463" width="601" height="1"/><rect x="603" y="32" width="2" height="1"/><rect x="603" y="65" width="2" height="1"/><rect x="603" y="98" width="2" height="1"/><rect x="603" y="130" width="2" height="1"/><rect x="603" y="163" width="2" height="1"/><rect x="603" y="196" width="2" height="1"/><rect x="603" y="228" width="2" height="1"/><rect x="603" y="261" width="2" height="1"/><rect x="603" y="294" width="2" height="1"/><rect x="603" y="326" width="2" height="1"/><rect x="603" y="335" width="2" height="1"/><rect x="603" y="462" width="1" height="1"/><rect x="3" y="464" width="1" height="3"/><rect x="67" y="464" width="1" height="3"/><rect x="131" y="464" width="1" height="3"/><rect x="195" y="464" width="1" height="3"/><rect x="259" y="464" width="1" height="3"/><rect x="323" y="464" width="1" height="3"/><rect x="387" y="464" width="1" height="3"/>
</g>
<g font-size="10.2px" fill="#000" stroke="#000" stroke-width="0.1">
<text transform="translate(607.9,35.1) rotate(0.03)" textLength="28.4" lengthAdjust="spacingAndGlyphs">0.9335</text><text transform="translate(607.9,68.1) rotate(0.03)" textLength="28.4" lengthAdjust="spacingAndGlyphs">0.9295</text><text transform="translate(607.9,101.1) rotate(0.03)" textLength="28.4" lengthAdjust="spacingAndGlyphs">0.9255</text><text transform="translate(607.9,133.1) rotate(0.03)" textLength="28.4" lengthAdjust="spacingAndGlyphs">0.9215</text><text transform="translate(607.9,166.1) rotate(0.03)" textLength="28.4" lengthAdjust="spacingAndGlyphs">0.9175</text><text transform="translate(607.9,199.1) rotate(0.03)" textLength="28.4" lengthAdjust="spacingAndGlyphs">0.9135</text><text transform="translate(607.9,231.1) rotate(0.03)" textLength="28.4" lengthAdjust="spacingAndGlyphs">0.9095</text><text transform="translate(607.9,264.1) rotate(0.03)" textLength="28.4" lengthAdjust="spacingAndGlyphs">0.9055</text><text transform="translate(607.9,297.1) rotate(0.03)" textLength="28.4" lengthAdjust="spacingAndGlyphs">0.9015</text><text transform="translate(607.9,329.1) rotate(0.03)" textLength="28.4" lengthAdjust="spacingAndGlyphs">0.8975</text><text transform="translate(606.3,344.1) rotate(0.03)" textLength="15.5" lengthAdjust="spacingAndGlyphs">100</text><text transform="translate(606.3,376.1) rotate(0.03)" textLength="10.3" lengthAdjust="spacingAndGlyphs">70</text><text transform="translate(606.3,401.1) rotate(0.03)" textLength="10.3" lengthAdjust="spacingAndGlyphs">50</text><text transform="translate(606.3,427.1) rotate(0.03)" textLength="10.3" lengthAdjust="spacingAndGlyphs">30</text><text transform="translate(606.3,460.1) rotate(0.03)" textLength="5.2" lengthAdjust="spacingAndGlyphs">0</text><text transform="translate(2.5,476.1) rotate(0.03)" textLength="50.9" lengthAdjust="spacingAndGlyphs">14 Mar 2012</text><text transform="translate(66.5,476.1) rotate(0.03)" textLength="53.4" lengthAdjust="spacingAndGlyphs">16 Mar 20:00</text><text transform="translate(130.5,476.1) rotate(0.03)" textLength="53.4" lengthAdjust="spacingAndGlyphs">21 Mar 12:00</text><text transform="translate(194.5,476.1) rotate(0.03)" textLength="53.4" lengthAdjust="spacingAndGlyphs">26 Mar 04:00</text><text transform="translate(258.5,476.1) rotate(0.03)" textLength="53.4" lengthAdjust="spacingAndGlyphs">28 Mar 20:00</text><text transform="translate(322.5,476.1) rotate(0.03)" textLength="48.3" lengthAdjust="spacingAndGlyphs">2 Apr 12:00</text><text transform="translate(386.5,476.1) rotate(0.03)" textLength="48.3" lengthAdjust="spacingAndGlyphs">5 Apr 04:00</text><text transform="translate(7.6,14.1) rotate(0.03)" textLength="53.6" lengthAdjust="spacingAndGlyphs">USDCHF,H4</text><text transform="translate(68,14.1) rotate(0.03)" textLength="27.4" lengthAdjust="spacingAndGlyphs">0.9189</text><text transform="translate(99.3,14.1) rotate(0.03)" textLength="27.4" lengthAdjust="spacingAndGlyphs">0.9191</text><text transform="translate(130.5,14.1) rotate(0.03)" textLength="27.4" lengthAdjust="spacingAndGlyphs">0.9183</text><text transform="translate(161.6,14.1) rotate(0.03)" textLength="27.4" lengthAdjust="spacingAndGlyphs">0.9189</text><text transform="translate(7,347.1) rotate(0.03)" textLength="68.3" lengthAdjust="spacingAndGlyphs">RSI(13) 60.1389</text>
</g>
<g shape-rendering="crispEdges"><rect x="604" y="166" width="36" height="11" fill="#ff0000"/><rect x="604" y="259" width="36" height="11" fill="#ff0000"/><rect x="604" y="145" width="36" height="11" fill="#000"/></g>
<g font-size="10.2px" fill="#fff" stroke="#fff" stroke-width="0.1"><text transform="translate(607.9,154.1) rotate(0.03)" textLength="28.4" lengthAdjust="spacingAndGlyphs">0.9189</text><text transform="translate(607.9,175.1) rotate(0.03)" textLength="28.4" lengthAdjust="spacingAndGlyphs">0.9163</text><text transform="translate(607.9,268.1) rotate(0.03)" textLength="28.4" lengthAdjust="spacingAndGlyphs">0.9050</text></g>
<g font-size="11px" fill="#000"><text x="5" y="459" textLength="52.9" lengthAdjust="spacing">RoboForex</text><text x="61.8" y="459" textLength="3.7" lengthAdjust="spacing">-</text><text x="67.7" y="459" textLength="55.5" lengthAdjust="spacing">MetaTrader</text><text x="127.5" y="459" textLength="9.7" lengthAdjust="spacing">4,</text><text x="140.7" y="459" textLength="10.9" lengthAdjust="spacing">©</text><text x="153.4" y="459" textLength="55" lengthAdjust="spacing">2001-2012,</text><text x="212.6" y="459" textLength="58.2" lengthAdjust="spacing">MetaQuotes</text><text x="274.4" y="459" textLength="42.9" lengthAdjust="spacing">Software</text><text x="320.9" y="459" textLength="26.7" lengthAdjust="spacing">Corp.</text></g>
</svg>
</body></html>
